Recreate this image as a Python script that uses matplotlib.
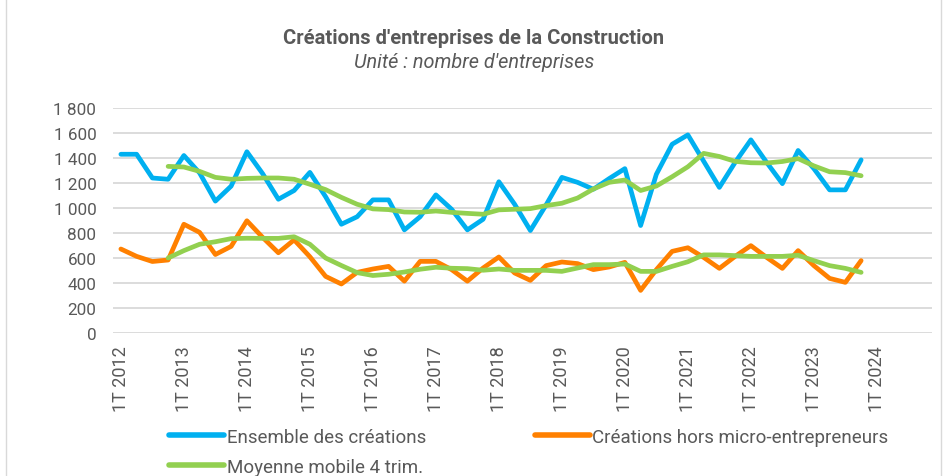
import numpy as np
import matplotlib
matplotlib.use("Agg")
import matplotlib.pyplot as plt
from matplotlib.lines import Line2D
from matplotlib.ticker import FuncFormatter

plt.rcParams['font.family'] = ['Roboto', 'DejaVu Sans']

# ---- data ----
years = list(range(2012, 2025))
quarters = [f"{q}T {y}" for y in years for q in range(1, 5)]  # 52 categories
tick_labels = [f"1T {y}" for y in years]

ensemble = [1430, 1430, 1240, 1230, 1420, 1280, 1055, 1175, 1450, 1275,
            1070, 1140, 1285, 1090, 870, 930, 1065, 1065, 825, 930,
            1105, 990, 825, 910, 1210, 1030, 820, 1025, 1245, 1205,
            1150, 1235, 1315, 860, 1270, 1510, 1585, 1375, 1165, 1365,
            1545, 1365, 1195, 1460, 1315, 1145, 1145, 1385]

hors_micro = [672, 613, 572, 584, 870, 805, 628, 693, 898, 765,
              642, 745, 610, 453, 392, 485, 512, 533, 415, 573,
              573, 507, 415, 520, 608, 480, 421, 539, 568, 555,
              507, 528, 565, 341, 507, 653, 682, 605, 517, 613,
              699, 605, 517, 659, 539, 437, 405, 579]

mm_ensemble = [None, None, None,
               1333, 1328, 1293, 1245, 1230, 1237, 1240, 1240, 1230, 1190,
               1147, 1085, 1030, 993, 987, 968, 966, 976, 965, 957,
               950, 985, 990, 995, 1019, 1038, 1080, 1152, 1205, 1224,
               1140, 1176, 1250, 1330, 1437, 1412, 1373, 1362, 1360, 1372,
               1395, 1337, 1290, 1283, 1258]

mm_hors_micro = [None, None, None,
                 600, 659, 710, 730, 755, 758, 757, 757, 770, 710,
                 600, 540, 483, 460, 470, 488, 510, 526, 518, 515,
                 502, 512, 501, 501, 501, 493, 520, 547, 547, 552,
                 493, 493, 533, 570, 625, 625, 619, 613, 613, 613,
                 622, 579, 539, 517, 485]

series_names = ["Ensemble des créations", "Créations hors micro-entrepreneurs",
                "Moyenne mobile 4 trim."]
colors = ["#00B0F0", "#FF8000", "#92D050"]

def arr(v):
    return np.array([np.nan if x is None else x for x in v], dtype=float)

fig = plt.figure(figsize=(9.48, 4.77), dpi=100)
ax = fig.add_axes([113/948, 1-334/477, (932-113)/948, (334-109)/477])

x_all = np.arange(len(quarters))
n = len(ensemble)
lw = 3.4
kw = dict(linewidth=lw, solid_capstyle='round', solid_joinstyle='round')
ax.plot(x_all[:n], arr(ensemble), color=colors[0], **kw, zorder=3)
ax.plot(x_all[:n], arr(hors_micro), color=colors[1], **kw, zorder=3)
ax.plot(x_all[:n], arr(mm_ensemble), color=colors[2], **kw, zorder=4)
ax.plot(x_all[:n], arr(mm_hors_micro), color=colors[2], **kw, zorder=4)

ax.set_xlim(-0.5, len(quarters) - 0.5)
ax.set_ylim(0, 1800)
ax.set_yticks(np.arange(0, 1801, 200))
ax.yaxis.set_major_formatter(FuncFormatter(lambda v, p: f"{int(v):,}".replace(",", " ")))
ax.set_xticks(x_all[::4])
ax.set_xticklabels(tick_labels, rotation=90)

ax.grid(axis='y', color='#D9D9D9', linewidth=1.3)
ax.set_axisbelow(True)
for s in ax.spines.values():
    s.set_visible(False)
ax.tick_params(axis='both', length=0, colors='#595959')
ax.tick_params(axis='y', labelsize=12.3, pad=12)
ax.tick_params(axis='x', labelsize=13, pad=9)

fig.text(0.5, 1-38/477, "Créations d'entreprises de la Construction", ha='center', va='center',
         fontsize=14.5, fontweight='bold', color='#595959')
fig.text(0.5, 1-62/477, "Unité : nombre d'entreprises", ha='center', va='center',
         fontsize=14.3, style='italic', color='#595959')

h1 = Line2D([], [], color=colors[0], linewidth=4, solid_capstyle='round')
h2 = Line2D([], [], color=colors[1], linewidth=4, solid_capstyle='round')
h3 = Line2D([], [], color=colors[2], linewidth=4, solid_capstyle='round')
leg = fig.legend([h1, h3, h2], [series_names[0], series_names[2], series_names[1]],
                 ncol=2, loc='upper left', bbox_to_anchor=(169/948, 1-429/477),
                 frameon=False, fontsize=13.5, handlelength=2.95, handletextpad=0.12,
                 columnspacing=5.8, labelspacing=0.62, borderpad=0, borderaxespad=0)
for t in leg.get_texts():
    t.set_color('#595959')

# chart frame edges
fig.add_artist(Line2D([6/948, 6/948], [0, 1], color='#D9D9D9', linewidth=1))
fig.add_artist(Line2D([941/948, 941/948], [0, 1], color='#D9D9D9', linewidth=1))

fig.savefig("out.png", dpi=100)
